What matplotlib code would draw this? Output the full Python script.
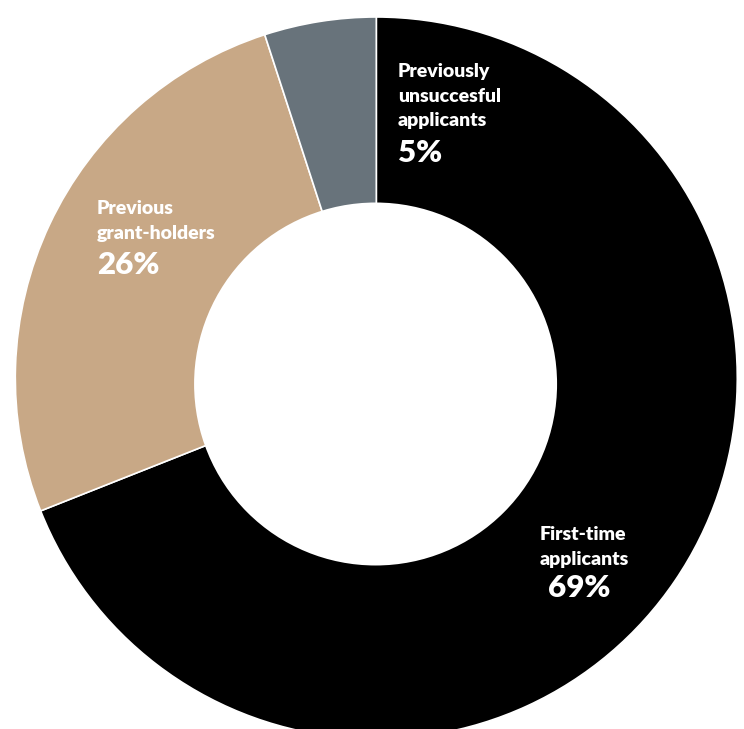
import matplotlib
matplotlib.use("Agg")
import matplotlib.pyplot as plt
from matplotlib.patches import Circle

categories = ["First-time applicants", "Previous grant-holders", "Previously unsuccesful applicants"]
values = [69, 26, 5]
label_lines = ["First-time\napplicants", "Previous\ngrant-holders", "Previously\nunsuccesful\napplicants"]
pct_labels = ["69%", "26%", "5%"]
colors = ["#000000", "#c8a886", "#68737b"]

W, H = 744, 729
fig = plt.figure(figsize=(W / 100, H / 100), dpi=100)
cx, cy, r = 376.3, 378.0, 361.0
ax = fig.add_axes([(cx - r) / W, (H - cy - r) / H, 2 * r / W, 2 * r / H])
ax.pie(values, colors=colors, startangle=90, counterclock=False, radius=1,
       wedgeprops=dict(edgecolor="white", linewidth=1.2))
# donut hole (slightly below the ring's centre, as in the reference)
ax.add_patch(Circle((-0.002, -6.0 / r), 181.5 / r, facecolor="white",
                    edgecolor="none", zorder=5))
ax.set_xlim(-1, 1)
ax.set_ylim(-1, 1)
ax.set_aspect("equal")
ax.axis("off")

font = dict(family=["Lato", "DejaVu Sans"], fontweight="heavy", color="white")

def px(x, y):
    return x / W, 1 - y / H

# label positions (pixel coords of top-left), per category
label_pos = [(540, 526), (97, 200), (398, 63)]
pct_pos = [(548, 574), (97, 251), (398, 139)]
for lab, pct, (lx, ly), (qx, qy) in zip(label_lines, pct_labels, label_pos, pct_pos):
    fig.text(*px(lx, ly), lab, ha="left", va="top", fontsize=14,
             linespacing=1.55, **font)
    fig.text(*px(qx, qy), pct, ha="left", va="top", fontsize=22.5, **font)

fig.savefig("out.png", dpi=100)
